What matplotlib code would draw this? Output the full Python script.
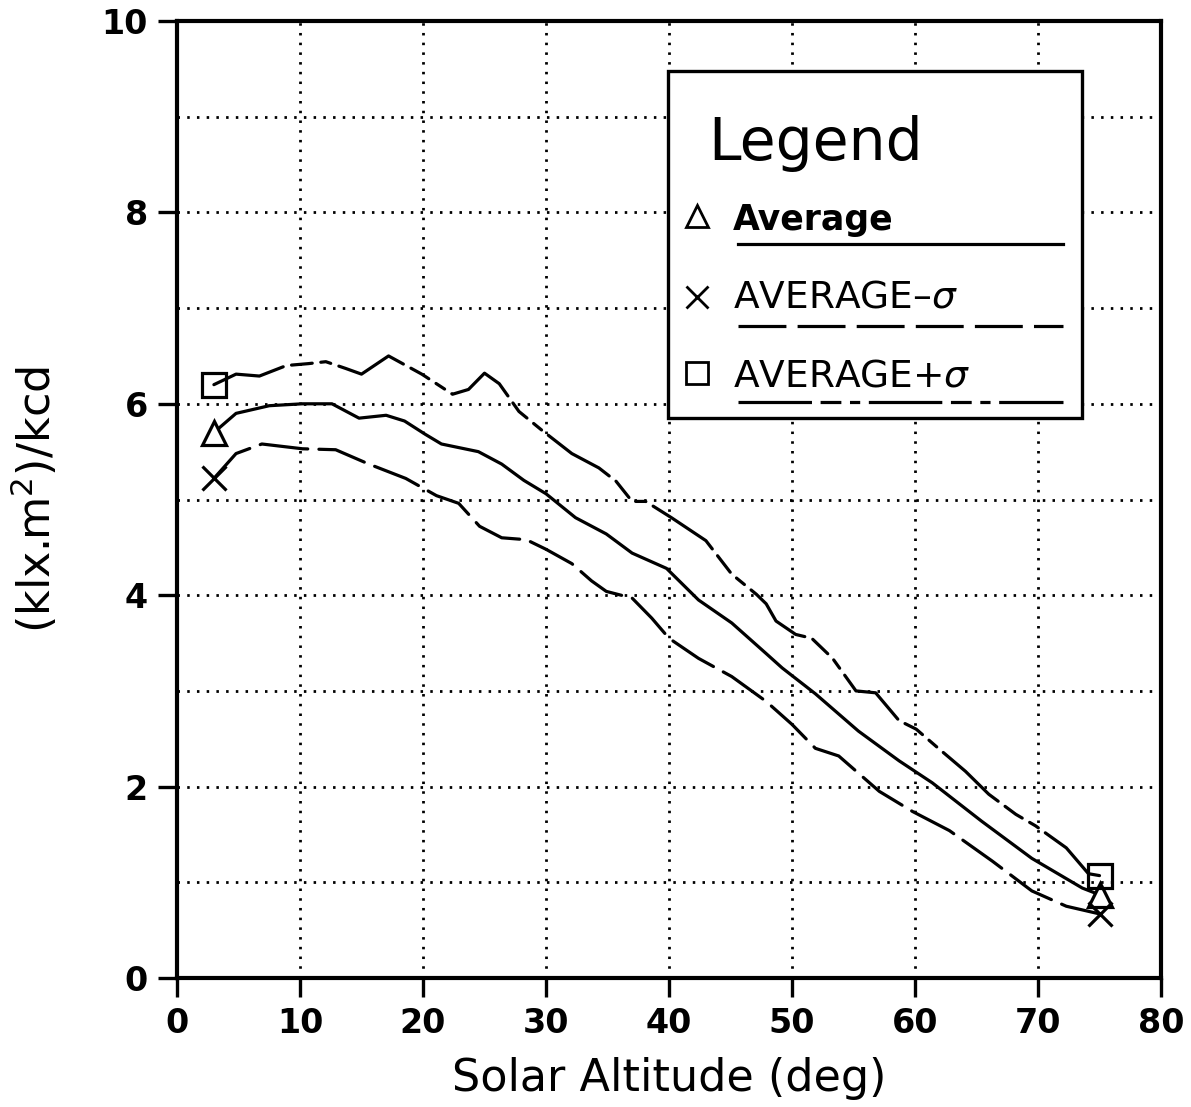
import matplotlib
matplotlib.use("Agg")
import matplotlib.pyplot as plt
from matplotlib.ticker import MultipleLocator
from matplotlib.lines import Line2D

plt.rcParams['font.family'] = ['DejaVu Sans']
plt.rcParams['mathtext.fontset'] = 'dejavusans'

# ---- data ----
x_avg = [3, 4.8, 7.5, 10.2, 12.6, 14.8, 17.0, 18.5, 20.2, 21.5, 24.5, 26.4, 28.2, 30,
         32.4, 34.9, 37, 39.8, 42.4, 45.1, 47.9, 49.2, 51.9, 55.4, 58.7, 61.4, 65.4,
         69.5, 73.6, 75]
y_avg = [5.70, 5.90, 5.98, 6.00, 6.00, 5.85, 5.88, 5.82, 5.68, 5.58, 5.50, 5.37, 5.20, 5.06,
         4.81, 4.64, 4.44, 4.28, 3.95, 3.71, 3.39, 3.24, 2.97, 2.58, 2.27, 2.04, 1.64,
         1.25, 0.94, 0.87]

x_lo = [3, 4.8, 6.9, 10.2, 12.9, 15.6, 18.6, 21.1, 22.9, 24.6, 26.4, 28.4, 30, 32.1,
        33.7, 34.9, 37, 38.6, 40, 42.4, 45.1, 47.9, 50, 51.9, 53.8, 57.1, 59.8, 62.8,
        66.3, 69.5, 72.3, 75]
y_lo = [5.22, 5.48, 5.58, 5.53, 5.52, 5.37, 5.22, 5.04, 4.96, 4.72, 4.60, 4.58, 4.48, 4.33,
        4.15, 4.04, 3.97, 3.76, 3.55, 3.34, 3.15, 2.89, 2.65, 2.40, 2.32, 1.95, 1.74, 1.54,
        1.22, 0.91, 0.75, 0.67]

x_hi = [3, 4.8, 6.7, 8.9, 10.7, 12.1, 13.7, 15.0, 17.2, 19.9, 22.4, 23.7, 25.0, 26.2,
        27.8, 29.7, 32.1, 34.3, 35.7, 37, 38.1, 40.2, 43, 45.1, 47.1, 47.9, 48.7, 50.3,
        51.6, 53.3, 55.2, 56.8, 58.7, 60.1, 61.9, 64.1, 66, 68.2, 69.8, 72.3, 74.1, 75]
y_hi = [6.20, 6.31, 6.29, 6.40, 6.42, 6.44, 6.37, 6.31, 6.50, 6.31, 6.10, 6.15, 6.32, 6.21,
        5.92, 5.72, 5.48, 5.33, 5.19, 4.98, 4.98, 4.81, 4.57, 4.22, 4.01, 3.91, 3.73, 3.59,
        3.55, 3.34, 3.00, 2.98, 2.69, 2.60, 2.40, 2.16, 1.92, 1.71, 1.59, 1.36, 1.09, 1.07]

x_ticks = [0, 10, 20, 30, 40, 50, 60, 70, 80]
y_ticks = [0, 2, 4, 6, 8, 10]

labels = ['Average', 'AVERAGE–$\\sigma$', 'AVERAGE+$\\sigma$']

# ---- styles ----
LW = 2.3
ls_avg = '-'
ls_lo = (0, (15, 3.5))
ls_hi = (0, (23, 2.7, 6.5, 2.7, 3.2, 2.7))
MS = 17

fig = plt.figure(figsize=(11.91, 11.07), dpi=100)
ax = fig.add_axes([177/1191, 1-978/1107, (1161-177)/1191, (978-21)/1107])

kw = dict(color='black', lw=LW, solid_capstyle='round', dash_capstyle='round',
          solid_joinstyle='round')
ax.plot(x_avg, y_avg, ls=ls_avg, **kw)
ax.plot(x_lo, y_lo, ls=ls_lo, **kw)
ax.plot(x_hi, y_hi, ls=ls_hi, **kw)

# end markers
ax.plot([x_avg[0], x_avg[-1]], [y_avg[0], y_avg[-1]], ls='none', marker='^', ms=MS,
        mfc='white', mec='black', mew=LW, zorder=5)
ax.plot([x_lo[0], x_lo[-1]], [y_lo[0], y_lo[-1]], ls='none', marker='x', ms=MS,
        mec='black', mew=LW, zorder=5)
ax.plot([x_hi[0], x_hi[-1]], [y_hi[0], y_hi[-1]], ls='none', marker='s', ms=MS,
        mfc='none', mec='black', mew=LW, zorder=5)

ax.set_xlim(0, 80)
ax.set_ylim(0, 10)
ax.set_xticks(x_ticks)
ax.set_yticks(y_ticks)
ax.yaxis.set_minor_locator(MultipleLocator(1))
ax.set_xticklabels([str(t) for t in x_ticks], fontweight='bold', fontsize=24)
ax.set_yticklabels([str(t) for t in y_ticks], fontweight='bold', fontsize=24)
ax.tick_params(which='major', direction='out', length=14, width=2.4, pad=7)
ax.tick_params(which='minor', length=0)
for s in ax.spines.values():
    s.set_linewidth(3)
ax.grid(which='both', color='black', lw=2.0, ls=(0, (0.9, 2.6)))
ax.set_axisbelow(True)

ax.set_xlabel('Solar Altitude (deg)', fontsize=32, labelpad=12)
ax.set_ylabel('(klx.m$^2$)/kcd', fontsize=32, labelpad=30)

# ---- custom legend ----
T = ax.transAxes
box = plt.Rectangle((0.499, 0.585), 0.421, 0.363, transform=T, facecolor='white',
                    edgecolor='black', lw=2.4, zorder=6)
ax.add_patch(box)
ax.text(0.540, 0.855, 'Legend', transform=T, fontsize=42, ha='left', va='baseline', zorder=7)

entries = [
    ('^', 'white', labels[0], 'bold', ls_avg, 0.796, 0.782, 0.767),
    ('x', 'black', labels[1], 'normal', ls_lo, 0.712, 0.701, 0.681),
    ('s', 'none', labels[2], 'normal', ls_hi, 0.632, 0.618, 0.602),
]
for mk, fc, lab, fw, ls, ym, yt, yl in entries:
    ax.add_line(Line2D([0.528], [ym], transform=T, marker=mk, ms=16, mfc=fc, mec='black',
                       mew=2.0, ls='none', zorder=7))
    ax.text(0.565, yt, lab, transform=T, fontsize=27 if fw == 'normal' else 25,
            fontweight=fw, ha='left', va='baseline', zorder=7)
    ax.add_line(Line2D([0.570, 0.900], [yl, yl], transform=T, color='black', lw=LW,
                       ls=ls, zorder=7))

fig.savefig('out.png', dpi=100, facecolor='white')
